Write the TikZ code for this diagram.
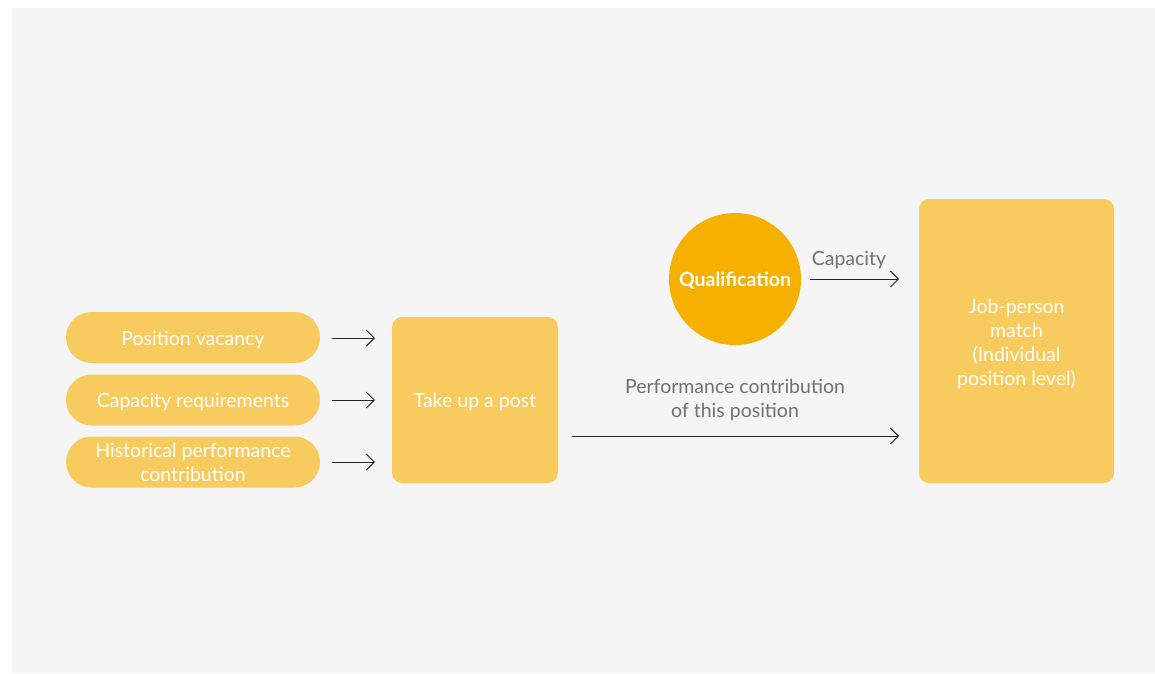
\documentclass[tikz,border=0pt]{standalone}
\usepackage{fontspec}
\setmainfont{Lato}
\usetikzlibrary{arrows.meta}
\definecolor{bg}{HTML}{F5F5F5}
\definecolor{boxy}{HTML}{F7CB5E}
\definecolor{circy}{HTML}{F6B000}
\definecolor{lbl}{HTML}{707070}
\tikzset{
  txt/.style={font=\fontsize{19.5}{24}\selectfont, align=center, inner sep=0pt, text height=19.6pt, text depth=4pt},
  pill/.style={txt, fill=boxy, rounded corners=25.5pt, minimum width=254pt, minimum height=51pt, text=white},
  bigbox/.style={txt, fill=boxy, rounded corners=10pt, text=white},
  conn/.style={draw=black!85, line width=0.9pt, -{Straight Barb[length=8pt,width=16pt,line width=0.9pt]}},
  lab/.style={txt, text=lbl}
}
\begin{document}
\begin{tikzpicture}[x=1pt,y=-1pt]
\useasboundingbox (0,0) rectangle (1155,673);
\fill[bg] (12,8) rectangle (1155,673);
\node[pill] (p1) at (193,337.5) {Position vacancy};
\node[pill] (p2) at (193,400) {Capacity requirements};
\node[pill, text height=43.6pt] (p3) at (193,462) {Historical performance\\contribution};
\node[bigbox, minimum width=166pt, minimum height=166pt] (take) at (475,400) {Take up a post};
\node[circle, txt, fill=circy, minimum size=132pt, text=white, font=\fontsize{19.5}{24}\selectfont\bfseries] (qual) at (735,279) {Qualification};
\node[bigbox, text height=93.4pt, minimum width=195pt, minimum height=284pt] (job) at (1016.5,341) {Job-person\\match\\(Individual\\position level)};
\coordinate (a1s) at (332,338); \coordinate (a1e) at (375,338);
\coordinate (a2s) at (332,400); \coordinate (a2e) at (375,400);
\coordinate (a3s) at (332,462); \coordinate (a3e) at (375,462);
\draw[conn] (a1s) -- (a1e);
\draw[conn] (a2s) -- (a2e);
\draw[conn] (a3s) -- (a3e);
\coordinate (cs) at (810,279); \coordinate (ce) at (899,279);
\draw[conn] (cs) -- (ce);
\node[lab] (caplab) at (849,257.4) {Capacity};
\coordinate (ls) at (572,436); \coordinate (le) at (899,436);
\draw[conn] (ls) -- (le);
\node[lab, text height=45.6pt] (perflab) at (735,396.9) {Performance contribution\\of this position};
\end{tikzpicture}
\end{document}
